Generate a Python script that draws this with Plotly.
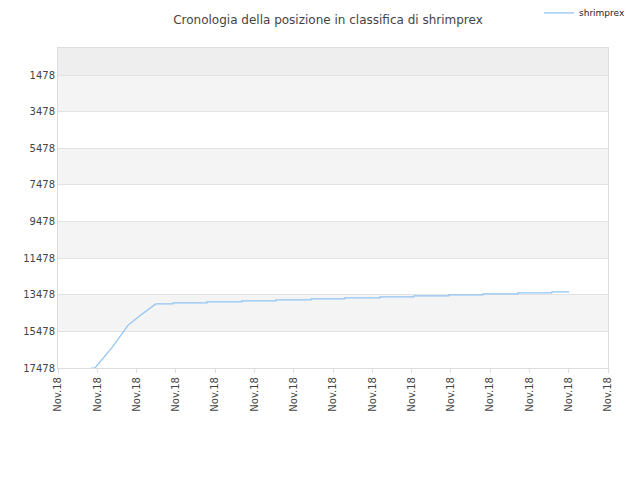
import plotly.graph_objects as go

tick_labels = ["Nov.18"] * 15
x_vals = [0.84, 0.94, 1.40, 1.78, 2.10, 2.49, 2.93, 2.93, 3.79, 3.79, 4.68, 4.68, 5.55, 5.55,
          6.44, 6.44, 7.30, 7.30, 8.20, 8.20, 9.06, 9.06, 9.95, 9.95, 10.82, 10.82,
          11.71, 11.71, 12.57, 12.57, 13.01]
y_vals = [17478, 17478, 16300, 15150, 14600, 13981, 13981, 13926, 13926, 13871, 13871, 13816,
          13816, 13761, 13761, 13706, 13706, 13651, 13651, 13596, 13596, 13541, 13541, 13486,
          13486, 13431, 13431, 13376, 13376, 13325, 13325]
y_ticks = [1478, 3478, 5478, 7478, 9478, 11478, 13478, 15478, 17478]
y_tick_text = [str(v) for v in y_ticks]
bands = [(0, 1478, "#eeeeee"), (1478, 3478, "#f4f4f4"), (5478, 7478, "#f4f4f4"),
         (9478, 11478, "#f4f4f4"), (13478, 15478, "#f4f4f4")]

fig = go.Figure()
fig.add_trace(go.Scatter(x=x_vals, y=y_vals, mode="lines", name="shrimprex",
                         line=dict(color="#90c4f4", width=1.2)))
for y0, y1, c in bands:
    fig.add_shape(type="rect", xref="paper", x0=0, x1=1, yref="y", y0=y0, y1=y1,
                  fillcolor=c, line_width=0, layer="below")
fig.update_layout(
    width=640, height=480, plot_bgcolor="white", paper_bgcolor="white",
    margin=dict(l=50, r=40, t=40, b=120, autoexpand=False),
    title=dict(text="Cronologia della posizione in classifica di shrimprex", x=0.5, xanchor="center",
               y=0.975, yanchor="middle", font=dict(family="DejaVu Sans", size=12, color="#444")),
    font=dict(family="DejaVu Sans", size=10, color="#444"),
    showlegend=True,
    legend=dict(x=1.04, y=1.11, xanchor="right", yanchor="middle", bgcolor="rgba(0,0,0,0)",
                font=dict(size=9, color="#222")),
    xaxis=dict(range=[0, 14], tickvals=list(range(15)), ticktext=tick_labels, tickangle=-90,
               showgrid=False, zeroline=False, showline=True, linecolor="#dddddd", mirror=True,
               ticks="outside", ticklen=4, tickcolor="#dddddd", automargin=False),
    yaxis=dict(range=[17478, 0], tickvals=y_ticks, ticktext=y_tick_text, showgrid=True,
               gridcolor="#e2e2e2", zeroline=False, showline=True, linecolor="#dddddd",
               mirror=True, automargin=False),
)
fig.write_html("out.html")
